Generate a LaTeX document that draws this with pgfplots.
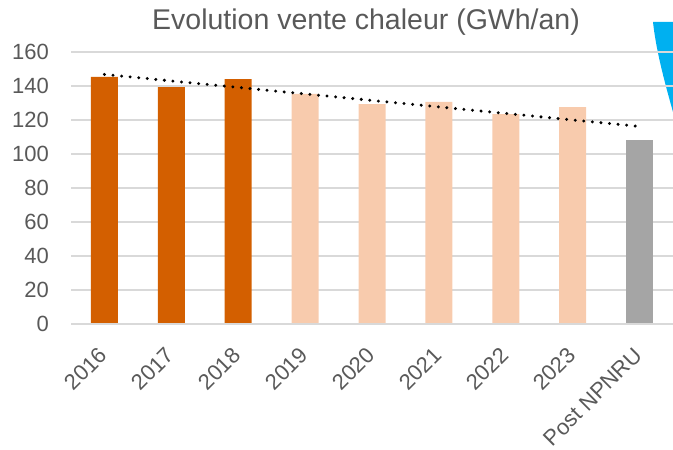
\documentclass[border=0pt]{standalone}
\usepackage{pgfplots}
\pgfplotsset{compat=1.18}
\usepackage{fontspec}
\setmainfont{Liberation Sans}
\definecolor{txt}{HTML}{595959}
\definecolor{grd}{HTML}{D9D9D9}
\definecolor{dark}{HTML}{D35F00}
\definecolor{light}{HTML}{F8CBAD}
\definecolor{grey}{HTML}{A5A5A5}
\definecolor{blu}{HTML}{00B0F0}
\begin{document}
\begin{tikzpicture}[x=1bp,y=1bp]
\path[use as bounding box] (0,0) rectangle (673,450);
\fill[blu] (653,428) -- (673,428) -- (673,338) .. controls (664,370) and (656,400) .. (653,428) -- cycle;
\begin{axis}[
  at={(71bp,126bp)}, anchor=south west,
  scale only axis, width=602bp, height=272bp,
  xmin=-0.5, xmax=8.5, ymin=0, ymax=160,
  ytick={0,20,...,160},
  xtick={0,...,8},
  xticklabels={2016,2017,2018,2019,2020,2021,2022,2023,Post NPNRU},
  axis line style={draw=none},
  ymajorgrids, grid style={grd, line width=1.5bp},
  major tick length=0pt,
  /pgf/number format/assume math mode=true,
  tick label style={font=\fontsize{22bp}{26bp}\selectfont, text=txt},
  yticklabel style={inner sep=0pt, xshift=-22bp},
  xticklabel style={xshift=-6.8bp, yshift=-21.9bp, rotate=45, anchor=north east, inner sep=0pt},
  ybar, bar width=27bp,
  clip=false,
]
\addplot[fill=dark, draw=none, bar shift=0pt] coordinates {(0,145.3) (1,139.4) (2,144.1)};
\addplot[fill=light, draw=none, bar shift=0pt] coordinates {(3,135.3) (4,129.4) (5,130.6) (6,123.5) (7,127.6)};
\addplot[fill=grey, draw=none, bar shift=0pt] coordinates {(8,108.2)};
\draw[grd, line width=1.5bp] (axis cs:-0.5,0) -- (axis cs:8.5,0);
\addplot[sharp plot, black, line width=3.3bp, line cap=round, dash pattern=on 0pt off 8.6bp] coordinates {(0,146.8) (8,116.2)};
\end{axis}
\node[text=txt, font=\fontsize{28.5bp}{32bp}\selectfont] at (366,428) {Evolution vente chaleur (GWh/an)};
\end{tikzpicture}
\end{document}
